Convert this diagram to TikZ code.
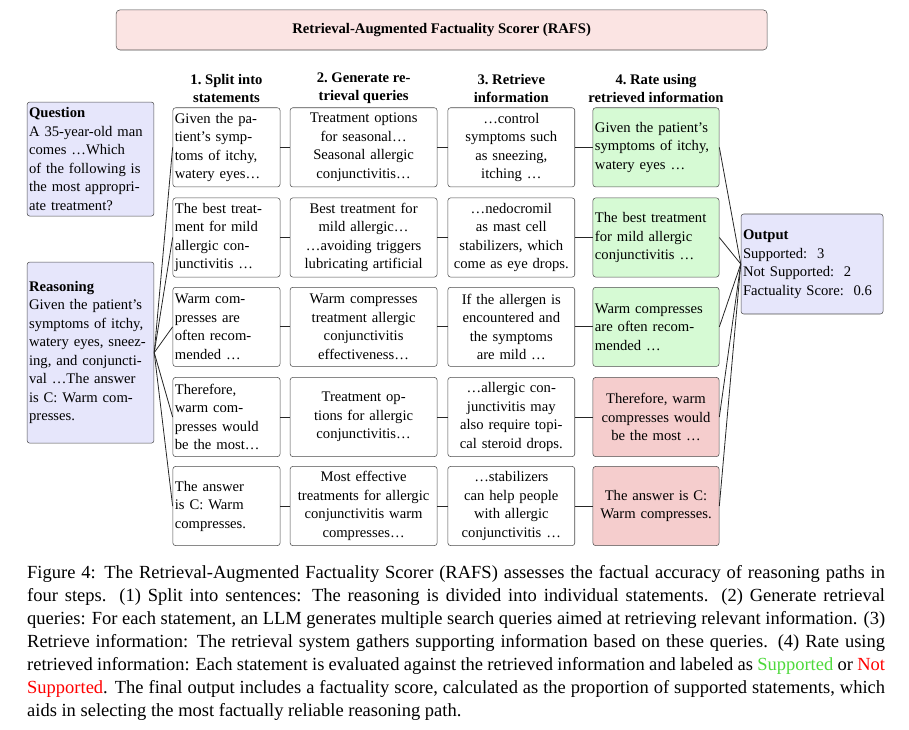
\documentclass[tikz,border=0pt]{standalone}
\usepackage{fontspec}
\setmainfont{Liberation Serif}
\usepackage{xcolor}
\usetikzlibrary{positioning}
\definecolor{lav}{HTML}{E6E6FB}
\definecolor{okgreen}{HTML}{D6FAD4}
\definecolor{badred}{HTML}{F5CDCD}
\definecolor{titlepink}{HTML}{FBE4E3}
\definecolor{capgreen}{HTML}{4CD93A}
\begin{document}
\begin{tikzpicture}
          [box/.style={draw=black!70,rounded corners=2pt,fill=white,minimum height=2.09cm,inner xsep=1.5pt,font=\fontsize{11}{13.9}\selectfont},
           side/.style={box,fill=lav,align=left,text width=3.35cm-3pt},
           head/.style={font=\fontsize{11}{13.4}\selectfont\bfseries,align=center},
           link/.style={draw=black!85,line width=0.6pt}
          ]
          \useasboundingbox (0,0) rectangle (24,-19.27);
          \node[draw=black!70,rounded corners=3pt,fill=titlepink,minimum width=17.19cm,minimum height=1.06cm,font=\fontsize{11}{13.9}\selectfont\bfseries] (title) at (11.66,-0.79) {Retrieval-Augmented Factuality Scorer (RAFS)};
          % column headers
          \node[head] (h1) at (5.98,-2.33) {1.\ Split into\\statements};
          \node[head] (h2) at (9.60,-2.33) {2.\ Generate re-\\trieval queries};
          \node[head] (h3) at (13.50,-2.33) {3.\ Retrieve\\information};
          \node[head] (h4) at (17.32,-2.33) {4.\ Rate using\\retrieved information};
          % input and output
          \node[side,minimum height=3.01cm] (q) at (2.39,-4.20) {\textbf{Question}\\A 35-year-old man\\comes \ldots Which\\of the following is\\the most appropri-\\ate treatment?};
          \node[side,minimum height=4.78cm] (r) at (2.39,-9.31) {\textbf{Reasoning}\\Given the patient's\\symptoms of itchy,\\watery eyes, sneez-\\ing, and conjuncti-\\val \ldots The answer\\is C: Warm com-\\presses.};
          \node[side,text width=3.75cm-3pt,minimum height=2.64cm] (out) at (21.44,-6.97) {\textbf{Output}\\Supported:\ \ 3\\Not Supported:\ \ 2\\Factuality Score:\ \ 0.6};
          % statements
          \node[box,text width=2.83cm-3pt,align=left] (s1) at (5.98,-3.89) {Given the pa-\\tient's symp-\\toms of itchy,\\watery eyes\ldots};
          \node[box,text width=2.83cm-3pt,align=left] (s2) at (5.98,-6.27) {The best treat-\\ment for mild\\allergic con-\\junctivitis \ldots};
          \node[box,text width=2.83cm-3pt,align=left] (s3) at (5.98,-8.63) {Warm com-\\presses are\\often recom-\\mended \ldots};
          \node[box,text width=2.83cm-3pt,align=left] (s4) at (5.98,-11.01) {Therefore,\\warm com-\\presses would\\be the most\ldots};
          \node[box,text width=2.83cm-3pt,align=left] (s5) at (5.98,-13.36) {The answer\\is C: Warm\\compresses.};
          % queries
          \node[box,text width=3.88cm-3pt,align=center] (g1) at (9.60,-3.89) {Treatment options\\for seasonal\ldots\\Seasonal allergic\\conjunctivitis\ldots};
          \node[box,text width=3.88cm-3pt,align=center] (g2) at (9.60,-6.27) {Best treatment for\\mild allergic\ldots\\\ldots avoiding triggers\\lubricating artificial};
          \node[box,text width=3.88cm-3pt,align=center] (g3) at (9.60,-8.63) {Warm compresses\\treatment allergic\\conjunctivitis\\effectiveness\ldots};
          \node[box,text width=3.88cm-3pt,align=center] (g4) at (9.60,-11.01) {Treatment op-\\tions for allergic\\conjunctivitis\ldots};
          \node[box,text width=3.88cm-3pt,align=center] (g5) at (9.60,-13.36) {Most effective\\treatments for allergic\\conjunctivitis warm\\compresses\ldots};
          % retrieved
          \node[box,text width=3.35cm-3pt,align=center] (i1) at (13.50,-3.89) {\ldots control\\symptoms such\\as sneezing,\\itching \ldots};
          \node[box,text width=3.35cm-3pt,align=center] (i2) at (13.50,-6.27) {\ldots nedocromil\\as mast cell\\stabilizers, which\\come as eye drops.};
          \node[box,text width=3.35cm-3pt,align=center] (i3) at (13.50,-8.63) {If the allergen is\\encountered and\\the symptoms\\are mild \ldots};
          \node[box,text width=3.35cm-3pt,align=center] (i4) at (13.50,-11.01) {\ldots allergic con-\\junctivitis may\\also require topi-\\cal steroid drops.};
          \node[box,text width=3.35cm-3pt,align=center] (i5) at (13.50,-13.36) {\ldots stabilizers\\can help people\\with allergic\\conjunctivitis \ldots};
          % ratings
          \node[box,fill=okgreen,text width=3.33cm-3pt,align=left] (v1) at (17.32,-3.89) {Given the patient's\\symptoms of itchy,\\watery eyes \ldots};
          \node[box,fill=okgreen,text width=3.33cm-3pt,align=left] (v2) at (17.32,-6.27) {The best treatment\\for mild allergic\\conjunctivitis \ldots};
          \node[box,fill=okgreen,text width=3.33cm-3pt,align=left] (v3) at (17.32,-8.63) {Warm compresses\\are often recom-\\mended \ldots};
          \node[box,fill=badred,text width=3.33cm-3pt,align=center] (v4) at (17.32,-11.01) {Therefore, warm\\compresses would\\be the most \ldots};
          \node[box,fill=badred,text width=3.33cm-3pt,align=center] (v5) at (17.32,-13.36) {The answer is C:\\Warm compresses.};
          \foreach \k in {1,...,5} {
            \draw[link] (r.east) -- (s\k.west);
            \draw[link] (s\k) -- (g\k);
            \draw[link] (g\k) -- (i\k);
            \draw[link] (i\k) -- (v\k);
            \draw[link] (v\k.east) -- (out.west);
          }
          % caption
          \node[anchor=north west,inner sep=0pt,text width=22.65cm,align=justify,font=\fontsize{13.9}{17.3}\selectfont] (cap) at (0.71,-14.92) {Figure 4: The Retrieval-Augmented Factuality Scorer (RAFS) assesses the factual accuracy of reasoning paths in four steps. (1) Split into sentences: The reasoning is divided into individual statements. (2) Generate retrieval queries: For each statement, an LLM generates multiple search queries aimed at retrieving relevant information. (3) Retrieve information: The retrieval system gathers supporting information based on these queries. (4) Rate using retrieved information: Each statement is evaluated against the retrieved information and labeled as \textcolor{capgreen}{Supported} or \textcolor{red}{Not Supported}. The final output includes a factuality score, calculated as the proportion of supported statements, which aids in selecting the most factually reliable reasoning path.};
        \end{tikzpicture}
\end{document}
